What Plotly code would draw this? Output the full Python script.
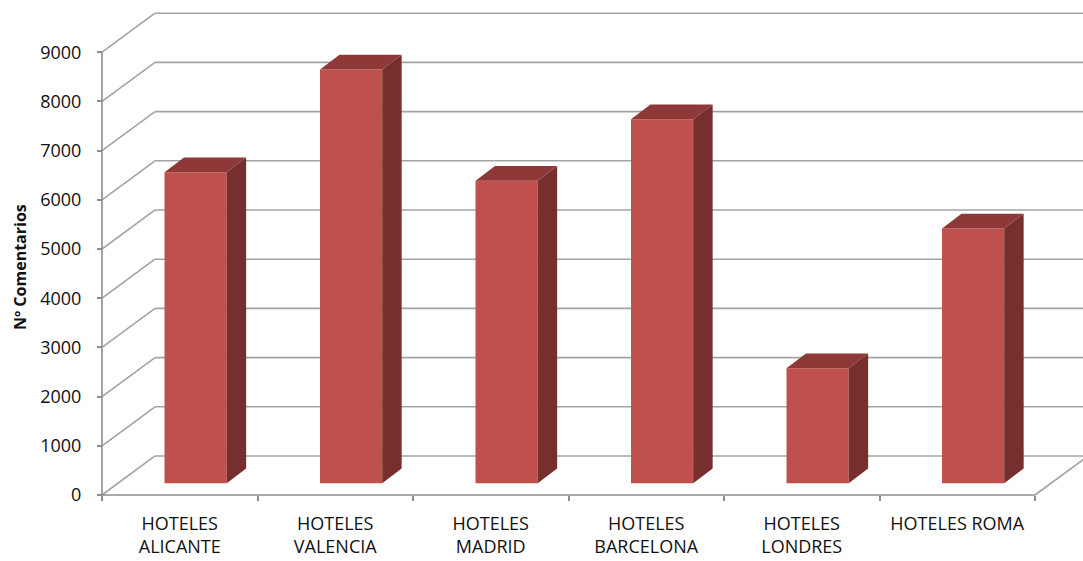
import plotly.graph_objects as go

# Data
categories = ["HOTELES<br>ALICANTE", "HOTELES<br>VALENCIA", "HOTELES<br>MADRID",
              "HOTELES<br>BARCELONA", "HOTELES<br>LONDRES", "HOTELES ROMA"]
comentarios = [6320, 8410, 6150, 7400, 2340, 5180]
y_ticks = [0, 1000, 2000, 3000, 4000, 5000, 6000, 7000, 8000, 9000]

# Pseudo-3D geometry (x in category units, y in value units)
W, H = 1083, 561
PX_PER_CAT = 155.5
PX_PER_VAL = 0.0492
X0_PX, Y0_PX = 102, 495
WALL_DX, WALL_DY = 0.341, 793          # depth of the floor / back wall
BAR_OFF_X, BAR_BASE = 0.402, 238       # bar front face position inside its category
BAR_W = 0.40
BAR_DX, BAR_DY = 0.125, 300            # bar depth

x_range = [-X0_PX / PX_PER_CAT, (W - X0_PX) / PX_PER_CAT]
y_range = [-(H - Y0_PX) / PX_PER_VAL, Y0_PX / PX_PER_VAL]
n = len(categories)

FRONT = "#C0504D"
SIDE = "#772F2E"
TOP = "#8E3937"
GRID = "#A3A3A3"
AXIS = "#8C8C8C"

shapes = []
def seg(x0, y0, x1, y1, color=GRID, width=1.6):
    shapes.append(dict(type="line", xref="x", yref="y", x0=x0, y0=y0, x1=x1, y1=y1,
                       line=dict(color=color, width=width), layer="below"))

# gridlines: left wall diagonals + back wall horizontals
for v in y_ticks:
    seg(0, v, WALL_DX, v + WALL_DY)
    seg(WALL_DX, v + WALL_DY, x_range[1] + 1, v + WALL_DY)
# floor right edge
seg(n, 0, n + WALL_DX, WALL_DY)
# axes
seg(0, 0, n, 0, AXIS, 1.6)
seg(0, 0, 0, y_ticks[-1], AXIS, 1.6)

fig = go.Figure()

# bar front faces
centers = [i + BAR_OFF_X + BAR_W / 2 for i in range(n)]
fig.add_trace(go.Bar(x=centers, y=comentarios, base=[BAR_BASE] * n, width=BAR_W,
                     marker=dict(color=FRONT, line=dict(width=0)),
                     hoverinfo="skip", showlegend=False))

# side and top faces
sx, sy, tx, ty = [], [], [], []
for i, v in enumerate(comentarios):
    xl = i + BAR_OFF_X
    xr = xl + BAR_W
    b = BAR_BASE
    t = BAR_BASE + v
    sx += [xr, xr + BAR_DX, xr + BAR_DX, xr, xr, None]
    sy += [b, b + BAR_DY, t + BAR_DY, t, b, None]
    tx += [xl, xl + BAR_DX, xr + BAR_DX, xr, xl, None]
    ty += [t, t + BAR_DY, t + BAR_DY, t, t, None]
fig.add_trace(go.Scatter(x=sx, y=sy, mode="lines", fill="toself", fillcolor=SIDE,
                         line=dict(width=0, color=SIDE), hoverinfo="skip", showlegend=False))
fig.add_trace(go.Scatter(x=tx, y=ty, mode="lines", fill="toself", fillcolor=TOP,
                         line=dict(width=0, color=TOP), hoverinfo="skip", showlegend=False))

font = dict(family="Open Sans", size=18, color="#111111")

fig.update_layout(
    width=W, height=H,
    margin=dict(l=0, r=0, t=0, b=0),
    paper_bgcolor="white", plot_bgcolor="white",
    shapes=shapes,
    xaxis=dict(range=x_range, anchor="free", position=(H - Y0_PX) / H,
               tickvals=[i + 0.5 for i in range(n)], ticktext=categories,
               ticks="", tickfont=font, ticklabelstandoff=16,
               minor=dict(tickvals=list(range(n + 1)), ticks="outside", ticklen=5,
                          tickcolor=AXIS, tickwidth=1.5),
               showgrid=False, zeroline=False, showline=False, fixedrange=True),
    yaxis=dict(range=y_range, anchor="free", position=X0_PX / W,
               tickvals=y_ticks, ticks="outside", ticklen=5, tickcolor=AXIS, tickwidth=1.5,
               tickfont=font, ticklabelstandoff=12,
               showgrid=False, zeroline=False, showline=False, fixedrange=True),
    annotations=[dict(text="<b>Nº Comentarios</b>", textangle=-90, xref="paper", yref="paper",
                      x=20 / W, y=(H - 267) / H, xanchor="center", yanchor="middle",
                      showarrow=False,
                      font=dict(family="Open Sans", size=16, color="#111111"))],
    showlegend=False,
)

fig.write_html("out.html")
